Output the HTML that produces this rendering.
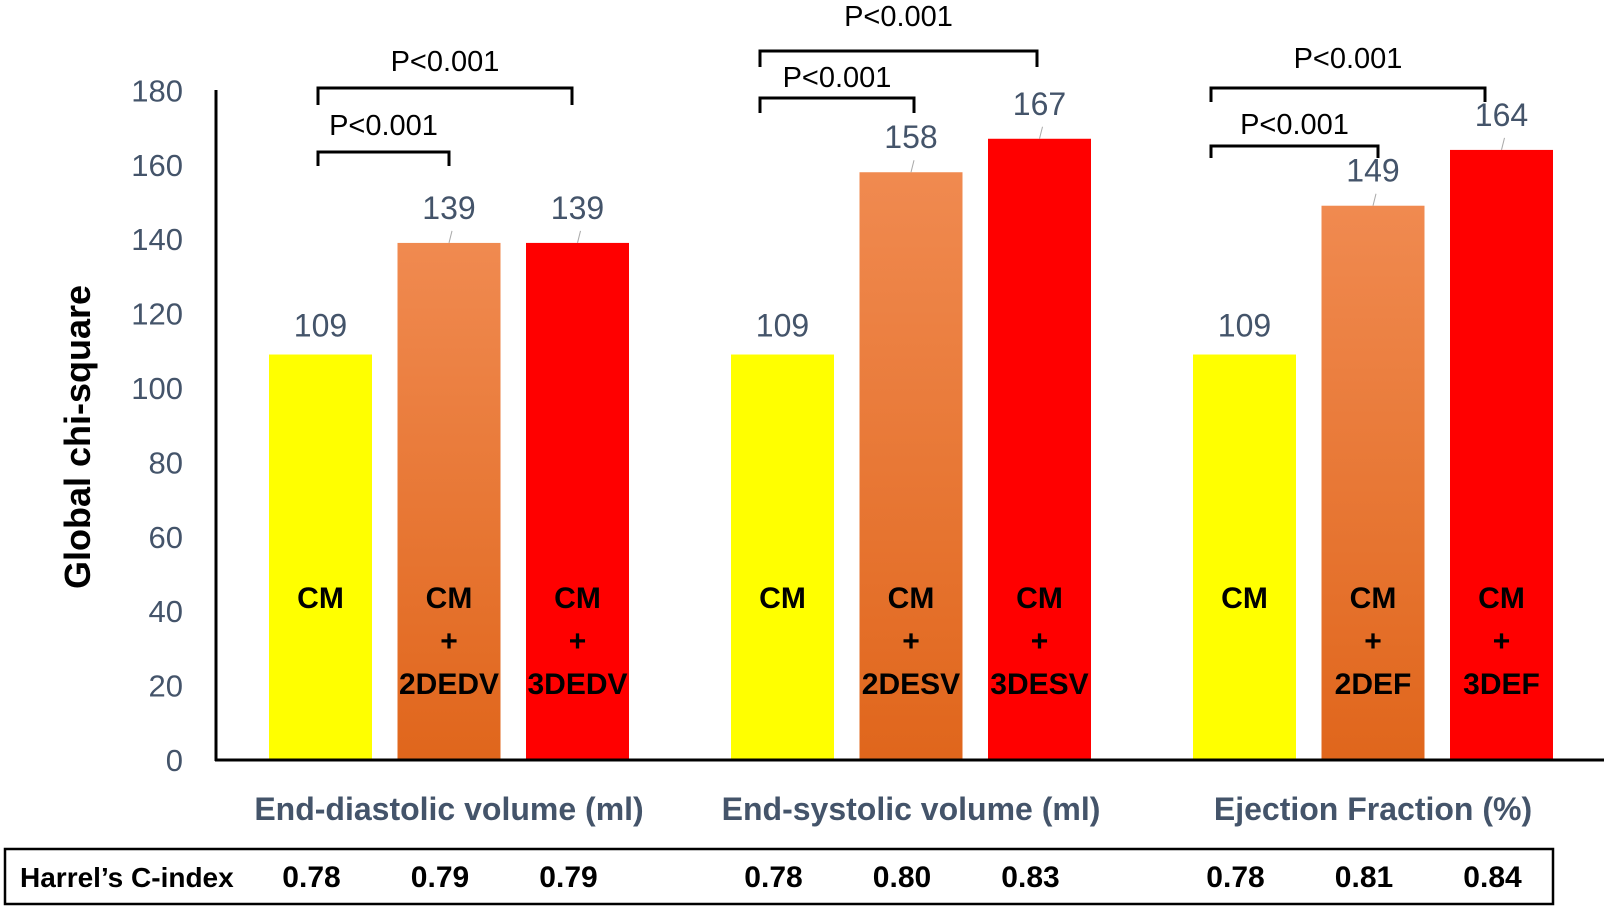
<!DOCTYPE html>
<html><head><meta charset="utf-8"><style>
body{margin:0;background:#fff;width:1610px;height:909px;overflow:hidden}
svg text{font-family:"Liberation Sans",sans-serif}
</style></head><body>
<svg id="chart" width="1610" height="909">
<defs><linearGradient id="og" x1="0" y1="0" x2="0" y2="1"><stop offset="0" stop-color="#f08a50"/><stop offset="1" stop-color="#e0661c"/></linearGradient></defs>
<g id="axes"></g><g id="bars"></g><g id="brackets"></g><g id="table"></g>
</svg>
<script>
const groups=["End-diastolic volume (ml)","End-systolic volume (ml)","Ejection Fraction (%)"];
const models=[["CM","CM+2DEDV","CM+3DEDV"],["CM","CM+2DESV","CM+3DESV"],["CM","CM+2DEF","CM+3DEF"]];
const values=[[109,139,139],[109,158,167],[109,149,164]];
const cindex=[["0.78","0.79","0.79"],["0.78","0.80","0.83"],["0.78","0.81","0.84"]];
const yTicks=[0,20,40,60,80,100,120,140,160,180];
const pLabels=[["P<0.001","P<0.001"],["P<0.001","P<0.001"],["P<0.001","P<0.001"]];
const NS="http://www.w3.org/2000/svg";
const y0=760,pxu=3.72,x0=216;
const y=v=>y0-v*pxu;
const bx=(g,i)=>269+g*462+i*128.5;const bw=103;
const colors=["#ffff00","url(#og)","#ff0000"];
function mk(p,t,a,txt){const e=document.createElementNS(NS,t);for(const k in a)e.setAttribute(k,a[k]);if(txt!==undefined)e.textContent=txt;document.getElementById(p).appendChild(e);return e;}
let e;
e=mk("axes","line",{x1:x0,y1:90,x2:x0,y2:y0+1,stroke:"#000","stroke-width":3});

e=mk("axes","line",{x1:x0-1,y1:y0,x2:1604,y2:y0,stroke:"#000","stroke-width":3});

yTicks.forEach(t=>{e=mk("axes","text",{x:183,y:y(t)+11,"text-anchor":"end","font-size":31,fill:"#44546a"},t);
});
e=mk("axes","text",{x:0,y:0,transform:"translate(90,437) rotate(-90)","text-anchor":"middle","font-size":36,"font-weight":"bold",fill:"#000"},"Global chi-square");

groups.forEach((g,gi)=>{
 const cx=bx(gi,1)+bw/2;
 e=mk("axes","text",{x:cx,y:820,"text-anchor":"middle","font-size":32,"font-weight":"bold",fill:"#44546a"},g);
 
 values[gi].forEach((v,i)=>{
  const x=bx(gi,i);
  e=mk("bars","rect",{x:x,y:y(v),width:bw,height:y0-y(v)-1.5,fill:colors[i]});
  
  const off=i===0?18:24;
  if(i>0){e=mk("bars","line",{x1:x+bw/2,y1:y(v),x2:x+bw/2+3,y2:y(v)-12,stroke:"#aaa","stroke-width":1});
   }
  e=mk("bars","text",{x:x+bw/2,y:y(v)-off,"text-anchor":"middle","font-size":32,fill:"#44546a"},v);
  
  const parts=models[gi][i].split("+");
  const lines=parts.length>1?[parts[0],"+",parts[1]]:[parts[0]];
  lines.forEach((l,li)=>{e=mk("bars","text",{x:x+bw/2,y:608+li*43,"text-anchor":"middle","font-size":30,"font-weight":"bold",fill:"#000"},l);
   });
  e=mk("table","text",{x:x+bw/2-9,y:887,"text-anchor":"middle","font-size":30,"font-weight":"bold",fill:"#000"},cindex[gi][i]);
  
 });
});
const br=[[[318,449,152,166,124],[318,572,88,105,60]],[[760,914,98,113,76],[760,1037,51,67,15]],[[1211,1378,146,158,123],[1211,1485,88,102,57]]];
br.forEach((b,gi)=>b.forEach((q,k)=>{
 e=mk("brackets","path",{d:`M${q[0]},${q[3]}V${q[2]}H${q[1]}V${q[3]}`,fill:"none",stroke:"#000","stroke-width":3});
 
 e=mk("brackets","text",{x:(q[0]+q[1])/2,y:q[4]+11,"text-anchor":"middle","font-size":29,fill:"#000"},pLabels[gi][k]);
 
}));
e=mk("table","rect",{x:5,y:849,width:1548,height:55,fill:"none",stroke:"#000","stroke-width":2.5});

e=mk("table","text",{x:20,y:887,"font-size":28,"font-weight":"bold",fill:"#000"},"Harrel’s C-index");

</script>
</body></html>
